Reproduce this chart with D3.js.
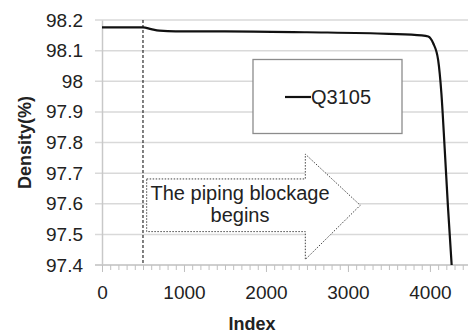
<!DOCTYPE html>
<html>
<head>
<meta charset="utf-8">
<script src="https://cdn.jsdelivr.net/npm/d3@7"></script>
<style>
  body { margin: 0; background: #fff; }
  text { font-family: "Liberation Sans", Arial, sans-serif; fill: #222; }
</style>
</head>
<body>
<div id="chart"></div>
<script>
// series Q3105
const indexValues = [0, 500, 600, 700, 900, 1500, 2500, 3500, 3900, 3980, 4040, 4100, 4140, 4180, 4220, 4265];
const densityValues = [98.176, 98.176, 98.170, 98.165, 98.163, 98.163, 98.160, 98.155, 98.150, 98.146, 98.124, 98.07, 97.96, 97.78, 97.59, 97.4];
const xTicks = [0, 1000, 2000, 3000, 4000];
const yTicks = [97.4, 97.5, 97.6, 97.7, 97.8, 97.9, 98.0, 98.1, 98.2];
const seriesName = 'Q3105';
const markerIndex = 500;
const arrowLines = ['The piping blockage', 'begins'];

const width = 468, height = 336;
const margin = {top: 20, right: 2, bottom: 71, left: 102};

const x = d3.scaleLinear().domain([0, 4440]).range([margin.left, width - margin.right]);
const y = d3.scaleLinear().domain([97.4, 98.2]).range([height - margin.bottom, margin.top]);

const svg = d3.select('#chart').append('svg')
  .attr('width', width)
  .attr('height', height);

// horizontal gridlines
svg.append('g')
  .selectAll('line')
  .data(yTicks)
  .join('line')
  .attr('x1', x(0) - 7)
  .attr('x2', width)
  .attr('y1', d => y(d))
  .attr('y2', d => y(d))
  .attr('stroke', '#d9d9d9')
  .attr('stroke-width', 1.5);

// y axis
const yAxis = d3.axisLeft(y).tickValues(yTicks).tickSize(0).tickPadding(19)
  .tickFormat(d => String(+d.toFixed(1)));
svg.append('g')
  .attr('transform', `translate(${x(0)},0)`)
  .call(yAxis)
  .call(g => g.select('.domain').attr('stroke', '#c8c8c8').attr('stroke-width', 1.5))
  .call(g => g.selectAll('text').attr('font-size', 19).style('fill', '#222'));

// x axis: minor ticks every 100
const minor = d3.range(0, 4401, 100);
const xAxis = d3.axisBottom(x).tickValues(minor).tickSize(5).tickFormat('');
svg.append('g')
  .attr('transform', `translate(0,${y(97.4)})`)
  .call(xAxis)
  .call(g => g.select('.domain').attr('d', `M${x(0) - 7},0H${width}`).attr('stroke', '#c8c8c8').attr('stroke-width', 1.5))
  .call(g => g.selectAll('.tick line').attr('stroke', '#c0c0c0'));

svg.append('g')
  .attr('transform', `translate(0,${y(97.4)})`)
  .call(d3.axisBottom(x).tickValues(xTicks).tickSize(7).tickPadding(14).tickFormat(d3.format('d')))
  .call(g => g.select('.domain').remove())
  .call(g => g.selectAll('.tick line').attr('stroke', '#c0c0c0'))
  .call(g => g.selectAll('text').attr('font-size', 19).style('fill', '#222'));

// axis titles
svg.append('text')
  .attr('x', 252)
  .attr('y', 330)
  .attr('text-anchor', 'middle')
  .attr('font-size', 18)
  .attr('font-weight', 'bold')
  .text('Index');

svg.append('text')
  .attr('transform', `translate(31,${(y(98.2) + y(97.4)) / 2})rotate(-90)`)
  .attr('text-anchor', 'middle')
  .attr('font-size', 18)
  .attr('font-weight', 'bold')
  .text('Density(%)');

// marker line where blockage begins
svg.append('line')
  .attr('x1', x(markerIndex)).attr('x2', x(markerIndex))
  .attr('y1', y(98.2)).attr('y2', y(97.4))
  .attr('stroke', '#000')
  .attr('stroke-width', 1)
  .attr('stroke-dasharray', '3,2');

// arrow callout
const ax0 = x(545), ax1 = x(2480), atip = x(3150);
const ayTop = y(97.681), ayBot = y(97.509), ayMid = y(97.595);
const ahTop = y(97.762), ahBot = y(97.418);
svg.append('path')
  .attr('d', `M${ax0},${ayTop}H${ax1}V${ahTop}L${atip},${ayMid}L${ax1},${ahBot}V${ayBot}H${ax0}Z`)
  .attr('fill', '#fff')
  .attr('stroke', '#444')
  .attr('stroke-width', 1)
  .attr('stroke-dasharray', '1.5,1.5');

svg.append('text')
  .attr('text-anchor', 'middle')
  .attr('font-size', 20)
  .selectAll('tspan')
  .data(arrowLines)
  .join('tspan')
  .attr('x', 240)
  .attr('y', (d, i) => ayMid - 5 + i * 22)
  .text(d => d);

// series line
const pts = indexValues.map((d, i) => [d, densityValues[i]]);
const line = d3.line().x(d => x(d[0])).y(d => y(d[1])).curve(d3.curveMonotoneX);
svg.append('path')
  .datum(pts)
  .attr('d', line)
  .attr('fill', 'none')
  .attr('stroke', '#111')
  .attr('stroke-width', 2.2);

// legend
const lg = svg.append('g');
lg.append('rect')
  .attr('x', 253).attr('y', 59.5)
  .attr('width', 149).attr('height', 74)
  .attr('fill', '#fff')
  .attr('stroke', '#8c8c8c')
  .attr('stroke-width', 1.3);
lg.append('line')
  .attr('x1', 285).attr('x2', 311)
  .attr('y1', 97).attr('y2', 97)
  .attr('stroke', '#111')
  .attr('stroke-width', 2.2);
lg.append('text')
  .attr('x', 311).attr('y', 104)
  .attr('font-size', 20)
  .text(seriesName);
</script>
</body>
</html>
